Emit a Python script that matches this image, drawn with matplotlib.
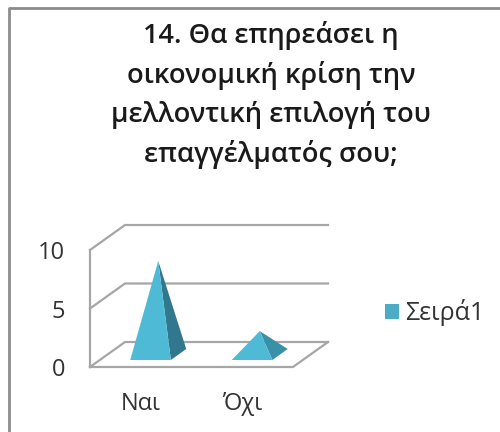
import matplotlib
matplotlib.use("Agg")
import matplotlib.pyplot as plt
from matplotlib.patches import Patch, Polygon

categories = ["Ναι", "Όχι"]
values = [8, 2]
series_name = "Σειρά1"
y_ticks = [0, 5, 10]
title = "14. Θα επηρεάσει η\nοικονομική κρίση την\nμελλοντική επιλογή του\nεπαγγέλματός σου;"

W, H = 500, 432
plt.rcParams["font.family"] = ["Open Sans", "DejaVu Sans"]

fig = plt.figure(figsize=(W / 100, H / 100), dpi=100)

# frame of the chart, only left and top edges show
fig.add_artist(plt.Line2D([8.5 / W, 8.5 / W, 1], [0, 1 - 7.5 / H, 1 - 7.5 / H], color="#8c8c8c", lw=2))

# axes = front plane of the 3d box
left, right, bottom, top = 90, 293, 367, 250
ax = fig.add_axes([left / W, 1 - bottom / H, (right - left) / W, (bottom - top) / H])
ax.set_xlim(0, 2)
ax.set_ylim(0, 10)
ax.patch.set_visible(False)
for s in ax.spines.values():
    s.set_visible(False)

# depth offset of the back plane, in data units
dx = 35 / ((right - left) / 2)
dy = 25 / ((bottom - top) / 10)


def proj(x, y, d):
    return (x + d * dx, y + d * dy)


grid = "#a6a6a6"
for t in y_ticks:
    xs, ys = zip(proj(0, t, 0), proj(0, t, 1), proj(2, t, 1))
    ax.plot(xs, ys, color=grid, lw=1.6, clip_on=False, solid_joinstyle="miter")
xs, ys = zip(proj(0, 0, 0), proj(2, 0, 0), proj(2, 0, 1))
ax.plot(xs, ys, color=grid, lw=1.6, clip_on=False)
ax.plot([0, 0], [0, 10], color=grid, lw=1.6, clip_on=False)

# pyramids
half = 0.2
d0, d1 = 0.28, 0.72
front = "#4fbad6"
side_dark = ["#31788f", "#3a90a8"]
for i, v in enumerate(values):
    c = i + 0.5
    apex = proj(c, v, (d0 + d1) / 2)
    fl = proj(c - half, 0, d0)
    fr = proj(c + half, 0, d0)
    br = proj(c + half, 0, d1)
    ax.add_patch(Polygon([fr, br, apex], closed=True, fc=side_dark[i], ec="none", clip_on=False, zorder=3))
    ax.add_patch(Polygon([fl, fr, apex], closed=True, fc=front, ec="none", clip_on=False, zorder=4))

ax.set_yticks(y_ticks)
ax.set_xticks([i + 0.5 for i in range(len(categories))])
ax.set_xticklabels(categories)
ax.tick_params(axis="both", length=0, labelsize=17, labelcolor="#333333")
ax.tick_params(axis="y", pad=18)
ax.tick_params(axis="x", pad=18)

handle = Patch(fc="#4bacc6", ec="none")
fig.legend([handle], [series_name], loc="center left", bbox_to_anchor=(385 / W, 1 - 313 / H),
           frameon=False, fontsize=18, labelcolor="#333333", handlelength=0.57, handleheight=0.57,
           handletextpad=0.25, borderpad=0, borderaxespad=0)

fig.text(271 / W, 1 - 95 / H, title, ha="center", va="center", fontsize=19.6, fontweight="semibold",
         color="#1a1a1a", linespacing=1.5)

fig.savefig("out.png", dpi=100)
